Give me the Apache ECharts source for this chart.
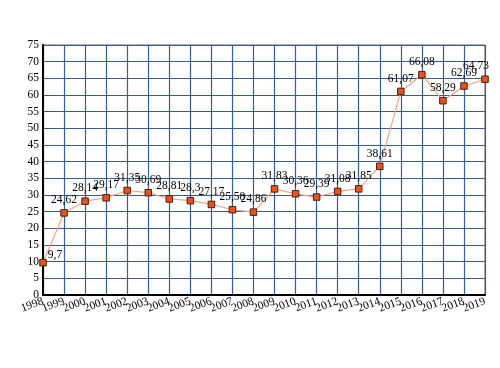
<!DOCTYPE html>
<html><head><meta charset="utf-8">
<script src="https://cdn.jsdelivr.net/npm/echarts@6/dist/echarts.min.js"></script>
<style>html,body{margin:0;padding:0;background:#fff}#c{width:500px;height:368px}</style>
</head><body><div id="c"></div>
<script>
var years = ['1998','1999','2000','2001','2002','2003','2004','2005','2006','2007','2008','2009','2010','2011','2012','2013','2014','2015','2016','2017','2018','2019'];
var values = [9.7,24.62,28.14,29.17,31.35,30.69,28.81,28.3,27.17,25.58,24.86,31.83,30.36,29.39,31.08,31.85,38.61,61.07,66.08,58.29,62.69,64.73];
var chart = echarts.init(document.getElementById('c'));
var font = 'Liberation Serif, Times New Roman, serif';
chart.setOption({
  animation: false,
  grid: {left: 43, right: 15, top: 45, bottom: 73, show: true, borderColor: '#666', borderWidth: 1},
  xAxis: {
    type: 'category', data: years, boundaryGap: false,
    axisLine: {lineStyle: {color: '#000', width: 2}},
    axisTick: {show: false},
    axisLabel: {rotate: 20, color: '#000', fontFamily: font, fontSize: 11.5, margin: 6, interval: 0},
    splitLine: {show: true, lineStyle: {color: '#3a5c8c', width: 1.2}}
  },
  yAxis: {
    type: 'value', min: 0, max: 75, interval: 5,
    axisLine: {show: true, lineStyle: {color: '#000', width: 2}},
    axisTick: {show: false},
    axisLabel: {color: '#000', fontFamily: font, fontSize: 11.5, margin: 4},
    splitLine: {show: true, lineStyle: {color: '#3a5c8c', width: 1.2}}
  },
  series: [{
    type: 'line',
    data: values.map(function(v, i){
      var o = {value: v};
      if (i === 0) o.label = {position: 'right', offset: [-2, -8]};
      if (i === values.length - 1) o.label = {offset: [-9, 0]};
      return o;
    }),
    symbol: 'rect', symbolSize: 6.5,
    lineStyle: {color: '#f7a185', width: 1.2},
    itemStyle: {color: '#e8531c', borderColor: '#4a2010', borderWidth: 1},
    label: {
      show: true, position: 'top', distance: 3, color: '#000', fontFamily: font, fontSize: 11.5,
      formatter: function(p){ return String(p.value).replace('.', ','); }
    }
  }]
});
</script></body></html>
